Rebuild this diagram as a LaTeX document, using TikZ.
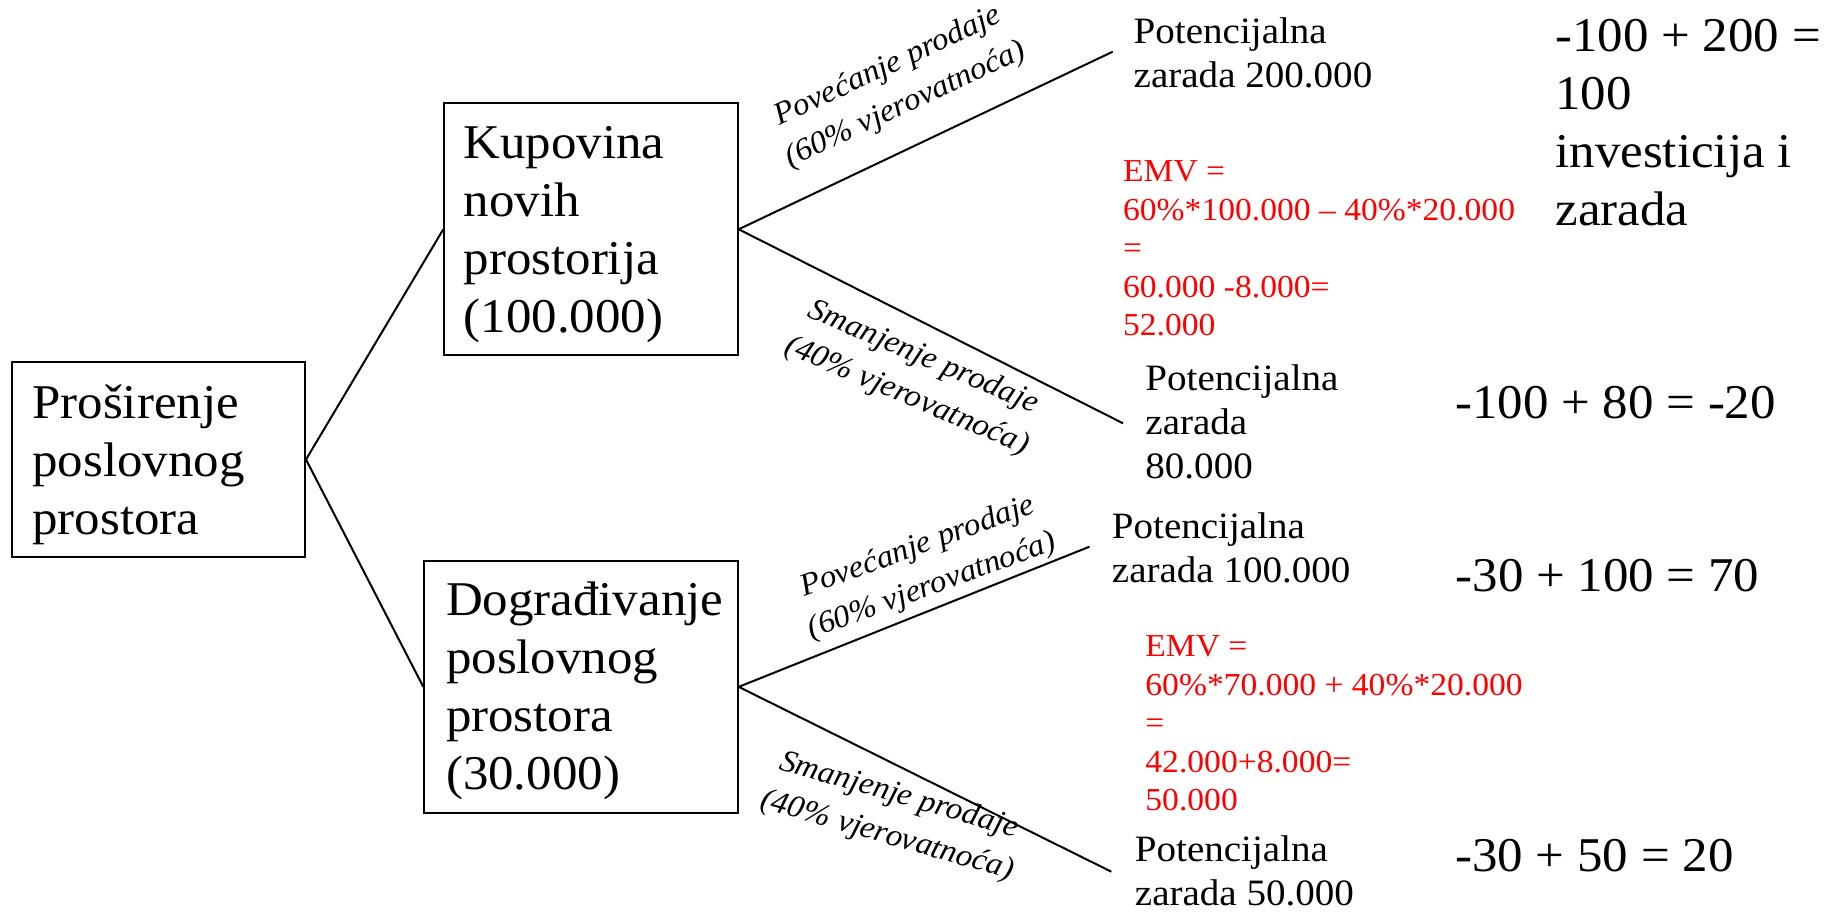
\documentclass[tikz,border=0pt]{standalone}
\usepackage{fontspec}
\setmainfont{Liberation Serif}[FakeStretch=1.05]
% left-aligned stack of lines whose baseline is the first line
\newcommand\rowsof[1]{\begin{tabular}[t]{@{}l@{}}#1\end{tabular}}
\begin{document}
\begin{tikzpicture}[x=0.5pt,y=-0.5pt,
  boxnode/.style={draw, line width=1pt, inner sep=0pt, anchor=north west},
  branch/.style={line width=1pt},
  bigtxt/.style={font=\fontsize{24.25}{29}\selectfont, inner sep=0pt, anchor=base west},
  midtxt/.style={font=\fontsize{18.6}{22}\selectfont, inner sep=0pt, anchor=base west},
  emvtxt/.style={font=\fontsize{16}{19.25}\selectfont, text=red, inner sep=0pt, anchor=base west},
  labtxt/.style={font=\fontsize{15.7}{21}\selectfont\itshape, align=center, inner sep=0pt}]
\useasboundingbox (0,0) rectangle (1826,914);

% decision boxes
\node[boxnode, minimum width=146.5pt, minimum height=97.5pt] (root) at (11,361) {};
\node[boxnode, minimum width=146.7pt, minimum height=126pt] (kup) at (443.3,102.3) {};
\node[boxnode, minimum width=156.7pt, minimum height=125.85pt] (dog) at (423.3,560) {};

\node[bigtxt] (rootT) at (32,419) {\rowsof{Proširenje\\poslovnog\\prostora}};
\node[bigtxt] (kupT) at (463.3,159) {\rowsof{Kupovina\\novih\\prostorija\\(100.000)}};
\node[bigtxt] (dogT) at (445.7,615.7) {\rowsof{Dograđivanje\\poslovnog\\prostora\\(30.000)}};

% branch ends
\coordinate (a1) at (1112.7,51.7);
\coordinate (a2) at (1123,423.3);
\coordinate (b1) at (1089.5,546.7);
\coordinate (b2) at (1111.3,871.7);

\draw[branch] (root.east) -- (kup.west);
\draw[branch] (root.east) -- (dog.west);
\draw[branch] (kup.east) -- (a1);
\draw[branch] (kup.east) -- (a2);
\draw[branch] (dog.east) -- (b1);
\draw[branch] (dog.east) -- (b2);

% branch labels
\node[labtxt, rotate=25] (l1) at (897,86) {Povećanje prodaje\\(60\% vjerovatnoća)};
\node[labtxt, rotate=-23] (l2) at (915,377) {Smanjenje prodaje\\(40\% vjerovatnoća)};
\node[labtxt, rotate=20] (l3) at (925,567) {Povećanje prodaje\\(60\% vjerovatnoća)};
\node[labtxt, rotate=-16] (l4) at (893,816) {Smanjenje prodaje\\(40\% vjerovatnoća)};

% outcomes
\node[midtxt] (p1) at (1133.3,43.3) {\rowsof{Potencijalna\\zarada 200.000}};
\node[midtxt] (p2) at (1145,390.7) {\rowsof{Potencijalna\\zarada\\80.000}};
\node[midtxt] (p3) at (1111.5,538.3) {\rowsof{Potencijalna\\zarada 100.000}};
\node[midtxt] (p4) at (1134.5,861.7) {\rowsof{Potencijalna\\zarada 50.000}};

% expected values
\node[emvtxt] (e1) at (1122.7,181.7) {\rowsof{EMV =\\60\%*100.000 – 40\%*20.000\\=\\60.000 -8.000=\\52.000}};
\node[emvtxt] (e2) at (1145,656.7) {\rowsof{EMV =\\60\%*70.000 + 40\%*20.000\\=\\42.000+8.000=\\50.000}};

% net results
\node[bigtxt] (r1) at (1555,51.7) {\rowsof{-100 + 200 =\\100\\investicija i\\zarada}};
\node[bigtxt] (r2) at (1455,418.3) {-100 + 80 = -20};
\node[bigtxt] (r3) at (1455.2,591.7) {-30 + 100 = 70};
\node[bigtxt] (r4) at (1455,871.7) {-30 + 50 = 20};
\end{tikzpicture}
\end{document}
